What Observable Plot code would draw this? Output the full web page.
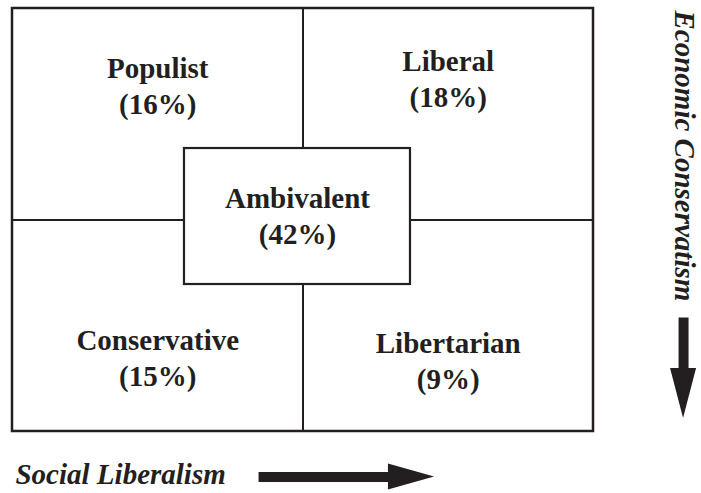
<!DOCTYPE html>
<html><head><meta charset="utf-8">
<script src="https://cdn.jsdelivr.net/npm/d3@7"></script>
<script src="https://cdn.jsdelivr.net/npm/@observablehq/plot@0.6"></script>
<style>body{margin:0;background:#fff}</style>
</head><body><div id="chart"></div>
<script>
// Data
const segments = ["Populist", "Liberal", "Conservative", "Libertarian", "Ambivalent"];
const shares = [16, 18, 15, 9, 42];
const socialSide = ["low", "high", "low", "high", "mid"];
const economicSide = ["low", "low", "high", "high", "mid"];
const axisTitles = ["Social Liberalism", "Economic Conservatism"];

const ink = "#231f20";
const serif = "'Liberation Serif', 'Times New Roman', serif";

// layout in conceptual units (quadrant grid 0..2 on each axis)
const colX = {low: 0.5, high: 1.5, mid: 0.981};
const rowY = {low: 0.343, high: 1.652, mid: 0.975};
const nudge = {Populist: 0.017, Liberal: -0.016, Conservative: -0.007, Libertarian: 0.008, Ambivalent: 0};

const data = segments.map((s, i) => ({
  segment: s,
  share: shares[i],
  label: `${s}\n(${shares[i]}%)`,
  x: colX[socialSide[i]],
  y: rowY[economicSide[i]] + nudge[s]
}));

const centerBox = [{x1: 0.592, x2: 1.37, y1: 0.662, y2: 1.305}];
const outer = [{x1: 0, x2: 2, y1: 0, y2: 2}];

// arrows
const hShaft = [{x1: 0.847, x2: 1.30, y: 2.215}];
const hHead = [{x: 1.294, y1: 2.215 - 0.0615, y2: 2.215 + 0.0615}, {x: 1.453, y1: 2.215, y2: 2.215}];
const vShaft = [{y1: 1.461, y2: 1.71, x: 2.31}];
const vHead = [{y: 1.702, x1: 2.31 - 0.0448, x2: 2.31 + 0.0448}, {y: 1.939, x1: 2.31, x2: 2.31}];

const chart = Plot.plot({
  width: 701,
  height: 493,
  margin: 0,
  style: {fontFamily: serif, color: ink, background: "#fff", overflow: "visible"},
  x: {domain: [0, 2], range: [12, 593], axis: null},
  y: {domain: [0, 2], range: [8, 431], axis: null},
  marks: [
    Plot.rect(outer, {x1: "x1", x2: "x2", y1: "y1", y2: "y2", fill: "none", stroke: ink, strokeWidth: 2.5}),
    Plot.ruleX([1], {y1: 0, y2: 2, stroke: ink, strokeWidth: 2}),
    Plot.ruleY([1], {x1: 0, x2: 2, stroke: ink, strokeWidth: 2}),
    Plot.rect(centerBox, {x1: "x1", x2: "x2", y1: "y1", y2: "y2", fill: "#fff", stroke: ink, strokeWidth: 2.2}),
    Plot.text(data, {x: "x", y: "y", text: "label", fontSize: 29, fontWeight: "bold", lineHeight: 1.25, fill: ink, lineAnchor: "middle"}),
    // Social Liberalism axis
    Plot.text([axisTitles[0]], {x: 0.0103, y: 2.246, text: d => d, textAnchor: "start", lineAnchor: "bottom", fontSize: 29, fontWeight: "bold", fontStyle: "italic", fill: ink}),
    Plot.link(hShaft, {x1: "x1", x2: "x2", y1: "y", y2: "y", stroke: ink, strokeWidth: 10}),
    Plot.areaY(hHead, {x: "x", y1: "y1", y2: "y2", fill: ink}),
    // Economic Conservatism axis
    Plot.text([axisTitles[1]], {x: 2.279, y: 0.0095, text: d => d, rotate: 90, textAnchor: "start", lineAnchor: "bottom", fontSize: 29, fontWeight: "bold", fontStyle: "italic", fill: ink}),
    Plot.link(vShaft, {x1: "x", x2: "x", y1: "y1", y2: "y2", stroke: ink, strokeWidth: 10}),
    Plot.areaX(vHead, {y: "y", x1: "x1", x2: "x2", fill: ink})
  ]
});
document.getElementById("chart").appendChild(chart);
</script>
</body></html>
